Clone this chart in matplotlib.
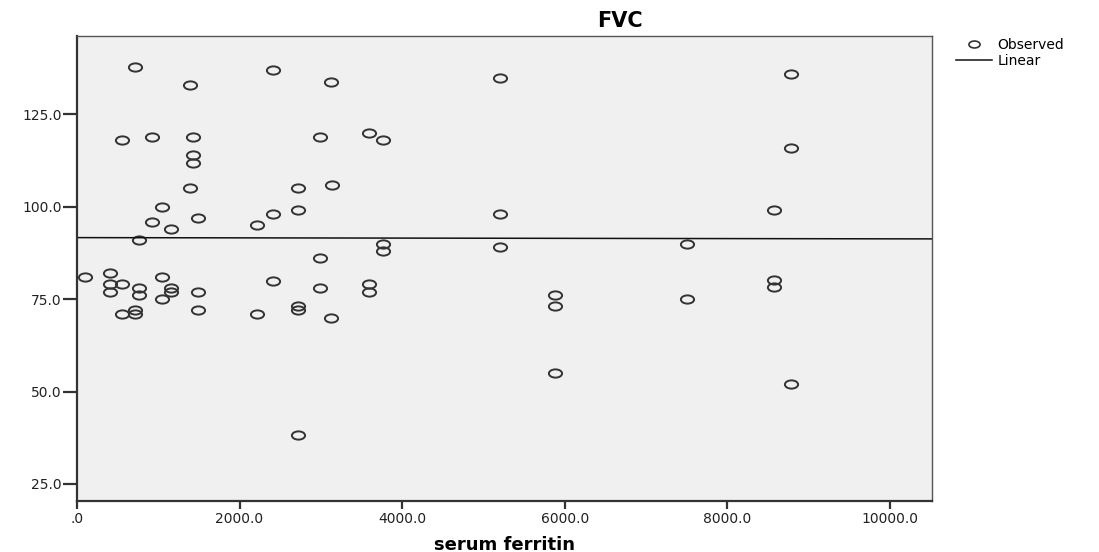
import matplotlib.pyplot as plt
import numpy as np
from matplotlib.path import Path
from matplotlib.transforms import Affine2D
from matplotlib.ticker import FuncFormatter
from matplotlib.lines import Line2D

plt.rcParams['font.family'] = ['DejaVu Sans']

# serum ferritin (x) and FVC (y)
ferritin = [714, 2417, 3127, 1395, 554, 919, 1424, 1424, 1424, 2991,
            3598, 3771, 1395, 2721, 3139, 1050, 919, 1490, 1161, 2220,
            2417, 2721, 767, 3763, 3763, 2991,
            98, 406, 406, 406, 554, 1046, 767, 767, 1046, 1161,
            1161, 1490, 554, 718, 718, 1490, 2220, 2417, 2721, 2721,
            2991, 3127, 3598, 3598, 2721,
            5207, 5207, 5207, 7505, 8580,
            5884, 5884, 5884, 7505, 8580, 8580,
            8785, 8785, 8785]
fvc = [137.8, 136.9, 133.7, 132.8, 117.9, 118.9, 118.9, 113.9, 111.8, 118.9,
       119.9, 117.9, 104.9, 104.9, 105.9, 99.9, 95.9, 97.0, 93.9, 94.9,
       98.0, 99.0, 90.9, 90.0, 88.1, 86.0,
       81.0, 81.9, 79.0, 77.0, 79.0, 81.0, 78.1, 76.1, 75.0, 77.9,
       77.0, 77.0, 71.0, 72.0, 71.0, 72.0, 71.0, 80.0, 73.0, 72.0,
       78.1, 70.0, 79.0, 77.0, 38.2,
       134.8, 98.0, 89.0, 90.0, 99.0,
       76.1, 73.1, 55.1, 75.0, 80.1, 78.2,
       135.8, 115.9, 52.1]

# linear fit line as drawn
fit_intercept = 91.6
fit_slope = -0.000033

x_ticks = [0, 2000, 4000, 6000, 8000, 10000]
y_ticks = [25, 50, 75, 100, 125]
xmin, xmax = 0, 10520
ymin, ymax = 20.4, 146.1

# stretched circle marker, like the SPSS output
ellipse = Path.unit_circle().transformed(Affine2D().scale(1.6, 1.0))

fig = plt.figure(figsize=(10.99, 5.52), dpi=100)
ax = fig.add_axes([77 / 1099, 1 - 501 / 552, (932 - 77) / 1099, (501 - 36) / 552])
ax.set_facecolor('#f0f0f0')

ax.plot(ferritin, fvc, linestyle='none', marker=ellipse, markersize=9.5,
        markerfacecolor='none', markeredgecolor='#333333', markeredgewidth=1.4)

xs = np.array([xmin, xmax])
ax.plot(xs, fit_intercept + fit_slope * xs, color='#111111', linewidth=1.1)

ax.set_xlim(xmin, xmax)
ax.set_ylim(ymin, ymax)
ax.set_xticks(x_ticks)
ax.set_yticks(y_ticks)


def fmt(v, pos):
    s = "%.1f" % v
    return s[1:] if s.startswith("0") else s


ax.xaxis.set_major_formatter(FuncFormatter(fmt))
ax.yaxis.set_major_formatter(FuncFormatter(fmt))
ax.tick_params(axis='y', direction='out', length=10, width=1.6, pad=1,
               labelsize=10, colors='#333333', labelcolor='#222222')
ax.tick_params(axis='x', direction='out', length=6, width=1.6, pad=2,
               labelsize=10, colors='#333333', labelcolor='#222222')

for side in ['top', 'right']:
    ax.spines[side].set_linewidth(1.0)
    ax.spines[side].set_color('#555555')
for side in ['left', 'bottom']:
    ax.spines[side].set_linewidth(1.6)
    ax.spines[side].set_color('#333333')

fig.text(505 / 1099, 1 - 550 / 552, 'serum ferritin', ha='center', va='baseline',
         fontsize=13, fontweight='bold')
fig.text(620 / 1099, 1 - 21 / 552, 'FVC', ha='center', va='center',
         fontsize=15, fontweight='bold')

handles = [Line2D([], [], linestyle='none', marker=ellipse, markersize=8,
                  markerfacecolor='none', markeredgecolor='#333333', markeredgewidth=1.2),
           Line2D([], [], color='#111111', linewidth=1.1)]
fig.legend(handles, ['Observed', 'Linear'], loc='upper left',
           bbox_to_anchor=(956 / 1099, 1 - 38 / 552), frameon=False,
           fontsize=10, handlelength=2.6, handletextpad=0.4, labelspacing=0.15,
           borderpad=0, borderaxespad=0)

fig.savefig('out.png', dpi=100)
